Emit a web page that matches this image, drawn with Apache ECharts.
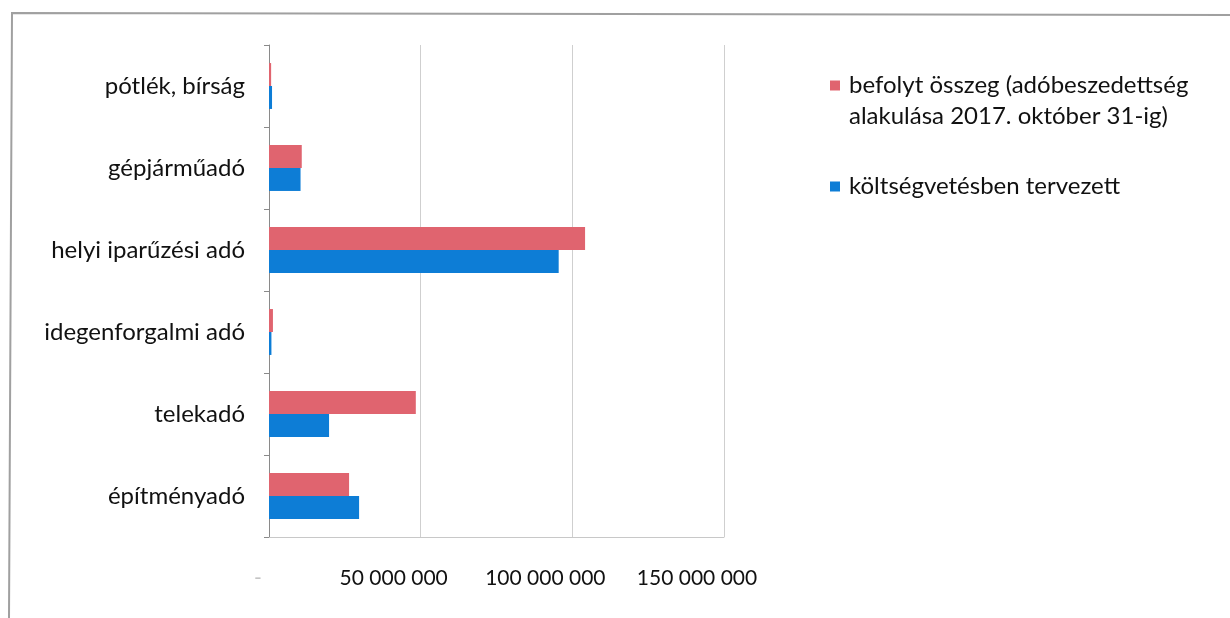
<!DOCTYPE html>
<html><head><meta charset="utf-8">
<script src="https://cdn.jsdelivr.net/npm/echarts@6/dist/echarts.min.js"></script>
<style>html,body{margin:0;padding:0;background:#fff}#c{width:1230px;height:618px}</style>
</head><body><div id="c"></div>
<script>
const categories = ['építményadó', 'telekadó', 'idegenforgalmi adó', 'helyi iparűzési adó', 'gépjárműadó', 'pótlék, bírság'];
const befolyt = [26400000, 48400000, 1300000, 104200000, 10800000, 700000];
const tervezett = [29700000, 19800000, 800000, 95500000, 10400000, 1000000];
const seriesNames = ['befolyt összeg (adóbeszedettség alakulása 2017. október 31-ig)', 'költségvetésben tervezett'];
const axisMin = 0, axisMax = 150000000, axisStep = 50000000;

function fmt(v) {
  if (v === 0) return '{z|-}';
  return '{n|' + String(v).replace(/\B(?=(\d{3})+(?!\d))/g, ' ') + '}';
}
const FONT = 'Lato';
const chart = echarts.init(document.getElementById('c'));
chart.setOption({
  animation: false,
  backgroundColor: '#fff',
  textStyle: { fontFamily: FONT },
  graphic: [{
    type: 'polyline', silent: true,
    shape: { points: [[9, 618], [12, 13], [1230, 15]] },
    style: { fill: 'none', stroke: '#a0a0a0', lineWidth: 2 }
  }],
  grid: { left: 269, right: 506, top: 45, bottom: 81, containLabel: false },
  legend: {
    orient: 'vertical', left: 825, top: 34, itemGap: 39,
    itemWidth: 10, itemHeight: 10, icon: 'rect',
    data: [seriesNames[0], seriesNames[1]],
    formatter: function (n) {
      if (n === seriesNames[0]) return '\nbefolyt összeg (adóbeszedettség\nalakulása 2017. október 31-ig)';
      return n;
    },
    textStyle: { fontFamily: FONT, fontSize: 24, color: '#111', lineHeight: 31, padding: [0, 0, 0, 4] }
  },
  xAxis: {
    type: 'value', min: axisMin, max: axisMax, interval: axisStep,
    axisLine: { show: true, lineStyle: { color: '#c8c8c8', width: 1 } },
    axisTick: { show: false },
    splitLine: { show: true, lineStyle: { color: '#cfcfcf', width: 1 } },
    axisLabel: {
      formatter: fmt, margin: 31,
      rich: {
        n: { fontFamily: FONT, fontSize: 21, color: '#111', padding: [0, 54, 0, 0] },
        z: { fontFamily: FONT, fontSize: 21, color: '#c4c4c4', padding: [0, 22, 0, 0] }
      }
    }
  },
  yAxis: {
    type: 'category', data: categories,
    axisLine: { show: true, lineStyle: { color: '#8a8a8a', width: 1 } },
    axisTick: { show: true, length: 5, lineStyle: { color: '#8a8a8a' } },
    axisLabel: { fontFamily: FONT, fontSize: 24, color: '#111', margin: 24 }
  },
  series: [
    { name: seriesNames[0], type: 'bar', data: befolyt, barGap: '0%', barCategoryGap: '44%',
      itemStyle: { color: '#e0646f' } },
    { name: seriesNames[1], type: 'bar', data: tervezett, barGap: '0%', barCategoryGap: '44%',
      itemStyle: { color: '#0d7dd6' } }
  ]
});
</script></body></html>
